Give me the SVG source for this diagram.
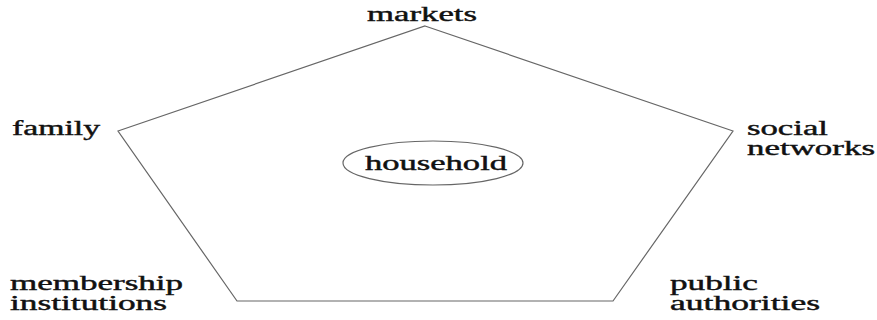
<svg xmlns="http://www.w3.org/2000/svg" width="877" height="320" viewBox="0 0 877 320">
  <style>
    .lbl { font-size: 20px; fill: #111; stroke: #111; stroke-width: 0.4; }
    .edge { fill: none; stroke: #666; stroke-width: 1.2; }
  </style>
  <rect width="877" height="320" fill="#fff"/>
  <!-- pentagon linking the five spheres -->
  <g id="connectors">
    <polygon class="edge" points="425,26 733,131 613,301 237,301 118,131"/>
  </g>
  <g font-family="Liberation Serif, serif">
    <g id="household">
      <ellipse cx="433" cy="163" rx="90" ry="22" class="edge"/>
      <text class="lbl" x="365" y="170" textLength="142" lengthAdjust="spacingAndGlyphs">household</text>
    </g>
    <g id="markets">
      <text class="lbl" x="367" y="21" textLength="110" lengthAdjust="spacingAndGlyphs">markets</text>
    </g>
    <g id="family">
      <text class="lbl" x="12" y="135" textLength="88" lengthAdjust="spacingAndGlyphs">family</text>
    </g>
    <g id="social-networks">
      <text class="lbl" x="747" y="135" textLength="81" lengthAdjust="spacingAndGlyphs">social</text>
      <text class="lbl" x="747" y="155" textLength="128" lengthAdjust="spacingAndGlyphs">networks</text>
    </g>
    <g id="membership-institutions">
      <text class="lbl" x="10" y="290" textLength="173" lengthAdjust="spacingAndGlyphs">membership</text>
      <text class="lbl" x="10" y="310" textLength="157" lengthAdjust="spacingAndGlyphs">institutions</text>
    </g>
    <g id="public-authorities">
      <text class="lbl" x="670" y="290" textLength="88" lengthAdjust="spacingAndGlyphs">public</text>
      <text class="lbl" x="670" y="310" textLength="150" lengthAdjust="spacingAndGlyphs">authorities</text>
    </g>
  </g>
</svg>
